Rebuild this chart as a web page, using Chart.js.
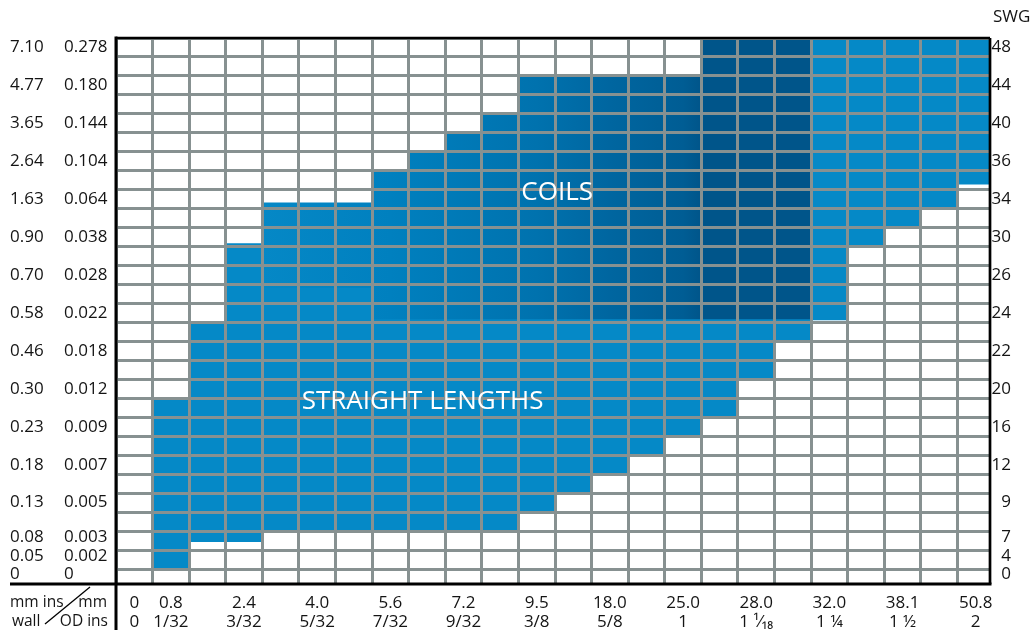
<!DOCTYPE html>
<html><head><meta charset="utf-8">
<script src="https://cdn.jsdelivr.net/npm/chart.js@4"></script>
<style>html,body{margin:0;padding:0;background:#fff}#wrap{width:1031px;height:634px}</style>
</head><body><div id="wrap"><canvas id="c"></canvas></div>
<script>
// ---- data ----
const columnCenters = [0.5,1.5,2.5,3.5,4.5,5.5,6.5,7.5,8.5,9.5,10.5,11.5,12.5,13.5,14.5,15.5,16.5,17.5,18.5,19.5,20.5,21.5,22.5,23.5];
const gridCols = [0,1,2,3,4,5,6,7,8,9,10,11,12,13,14,15,16,17,18,19,20,21,22,23];
const gridRows = [0,1,2,3,4,5,6,7,8,9,10,11,12,13,14,15,16,17,18,19,20,21,22,23,24,25,26,27,28];

// straight lengths (range per OD column, in wall-row units)
const straightLow  = [null,0,1.45,1.45,2,2,2,2,2,2,2,3,4,5,6,7,8,10,12,null,null,null,null,null];
const straightHigh = [null,9,13,17.15,14.8,14.8,14.8,13.15,13.15,13.15,13.15,13.15,13.15,13.15,13.15,13.15,13.15,13.15,13.15,null,null,null,null,null];
// coils
const coilLow  = [null,null,null,null,14.8,14.8,14.8,13.15,13.15,13.15,13.15,13.15,13.15,13.15,13.15,13.15,13.15,13.15,13.15,null,null,null,null,null];
const coilHigh = [null,null,null,null,19.3,19.3,19.3,21,22,23,24,26,26,26,26,26,28,28,28,null,null,null,null,null];
// large OD range (light blue, upper right)
const largeLow  = [null,null,null,null,null,null,null,null,null,null,null,null,null,null,null,null,null,null,null,13.15,17.1,18.1,19.1,20.3];
const largeHigh = [null,null,null,null,null,null,null,null,null,null,null,null,null,null,null,null,null,null,null,28,28,28,28,28];

// x tick labels
const odTickCols = [0.5,1.5,3.5,5.5,7.5,9.5,11.5,13.5,15.5,17.5,19.5,21.5,23.5];
const odMm  = ['0','0.8','2.4','4.0','5.6','7.2','9.5','18.0','25.0','28.0','32.0','38.1','50.8'];
const odIns = ['0','1/32','3/32','5/32','7/32','9/32','3/8','5/8','1','1 \u00B9\u2044\u2081\u2088','1 \u00BC','1 \u00BD','2'];

// y tick labels
const wallTickRows = [27.5,25.5,23.5,21.5,19.5,17.5,15.5,13.5,11.5,9.5,7.5,5.5,3.5,1.7,0.7,-0.25];
const wallMm  = ['7.10','4.77','3.65','2.64','1.63','0.90','0.70','0.58','0.46','0.30','0.23','0.18','0.13','0.08','0.05','0'];
const wallIns = ['0.278','0.180','0.144','0.104','0.064','0.038','0.028','0.022','0.018','0.012','0.009','0.007','0.005','0.003','0.002','0'];
const swg     = ['48','44','40','36','34','30','26','24','22','20','16','12','9','7','4','0'];

// ---- styling ----
const FONT = "'Open Sans', sans-serif";
const GRID = '#879191';
const LIGHT = '#0589c7';
const DARK = '#00558a';
const TXT = '#141414';
const YMIN = -0.79, YMAX = 28, XMIN = 0, XMAX = 23.89;
const COIL_STOPS = [[4,'#0588c6'],[7.5,'#0080bf'],[11.5,'#0072ae'],[13.5,'#0066a0'],[15.5,'#005d94'],[16,DARK]];

function bars(lo, hi){ return columnCenters.map((x,i)=>({x, y: lo[i]==null ? null : [lo[i], hi[i]]})); }

function coilGradient(ctx){
  const chart = ctx.chart;
  if (!chart.chartArea) return DARK;
  const xs = chart.scales.x;
  const v0 = COIL_STOPS[0][0], v1 = COIL_STOPS[COIL_STOPS.length-1][0];
  const g = chart.ctx.createLinearGradient(xs.getPixelForValue(v0), 0, xs.getPixelForValue(v1), 0);
  COIL_STOPS.forEach(([v,c]) => g.addColorStop((v-v0)/(v1-v0), c));
  return g;
}

const labelAxis = (weight, pos, labels, width, align) => ({
  type:'linear', position:pos, min:YMIN, max:YMAX, weight,
  afterBuildTicks: s => { s.ticks = wallTickRows.map(v=>({value:v})); },
  ticks:{autoSkip:false, crossAlign:align, padding: pos==='right'?3:0, color:TXT,
         font:{family:FONT, size:17}, callback:(v,i)=>labels[i]},
  grid:{display:false, drawTicks:false}, border:{display:false},
  afterFit: s => { s.width = width; }
});

const decor = {
  id:'decor',
  afterDraw(chart){
    const {ctx, chartArea:a, scales:{x, y}} = chart;
    const line = (x1,y1,x2,y2)=>{ctx.beginPath();ctx.moveTo(x1,y1);ctx.lineTo(x2,y2);ctx.stroke();};
    ctx.save();
    ctx.strokeStyle = '#000';
    ctx.lineWidth = 3;
    line(a.left, a.top-1.5, a.left, chart.height-4);
    line(10, a.bottom, a.right+1.5, a.bottom);
    ctx.lineWidth = 2.7;
    line(a.left, a.top, a.right, a.top);
    line(a.right, a.top, a.right, a.bottom);
    ctx.lineWidth = 1.3;
    line(a.left-26, a.bottom+3, a.left-71, a.bottom+40);

    ctx.fillStyle = TXT;
    ctx.textBaseline = 'middle';
    ctx.textAlign = 'left';
    ctx.font = "17px " + FONT;
    ctx.fillText('SWG', a.right+3, a.top-21);
    ctx.font = "15.5px " + FONT;
    ctx.fillText('mm ins', 10, a.bottom+19);
    ctx.fillText('wall', 12, a.bottom+38);
    ctx.textAlign = 'right';
    ctx.fillText('mm', a.left-9, a.bottom+19);
    ctx.fillText('OD ins', a.left-8, a.bottom+38);

    ctx.fillStyle = '#ffffff';
    ctx.font = "26px " + FONT;
    ctx.textAlign = 'center';
    ctx.fillText('COILS', x.getPixelForValue(12.06), y.getPixelForValue(19.84));
    ctx.fillText('STRAIGHT LENGTHS', x.getPixelForValue(8.38), y.getPixelForValue(8.84));
    ctx.restore();
  }
};

new Chart(document.getElementById('c'), {
  type:'bar',
  data:{ datasets:[
    {label:'Straight lengths', data:bars(straightLow, straightHigh), backgroundColor:LIGHT},
    {label:'Coils', data:bars(coilLow, coilHigh), backgroundColor:coilGradient},
    {label:'Large OD', data:bars(largeLow, largeHigh), backgroundColor:LIGHT}
  ]},
  options:{
    responsive:true, maintainAspectRatio:false, animation:false,
    datasets:{bar:{grouped:false, barPercentage:1, categoryPercentage:1, borderWidth:0, inflateAmount:0.5}},
    layout:{padding:{left:10, right:20, top:38, bottom:0}},
    plugins:{legend:{display:false}, tooltip:{enabled:false}, title:{display:false}},
    scales:{
      x:{type:'linear', position:'bottom', min:XMIN, max:XMAX, offset:false, weight:0,
         afterBuildTicks: s => { s.ticks = gridCols.map(v=>({value:v})); },
         ticks:{display:false}, grid:{color:GRID, lineWidth:3, drawTicks:false, offset:false, z:1}, border:{display:false},
         afterFit: s => { s.height = 0; }},
      xl:{type:'linear', position:'bottom', min:XMIN, max:XMAX, offset:false, weight:1,
         afterBuildTicks: s => { s.ticks = odTickCols.map(v=>({value:v})); },
         ticks:{autoSkip:false, maxRotation:0, padding:9, color:TXT, font:{family:FONT, size:17, lineHeight:1.15},
                callback:(v,i)=>[odMm[i], odIns[i]]},
         grid:{display:false, drawTicks:false, offset:false}, border:{display:false},
         afterFit: s => { s.height = 50; }},
      y:{type:'linear', position:'left', min:YMIN, max:YMAX, weight:0,
         afterBuildTicks: s => { s.ticks = gridRows.map(v=>({value:v})); },
         ticks:{display:false}, grid:{color:GRID, lineWidth:3, drawTicks:false, z:1}, border:{display:false},
         afterFit: s => { s.width = 0; }},
      yIns: labelAxis(1, 'left', wallIns, 52, 'far'),
      yMm: labelAxis(2, 'left', wallMm, 54, 'far'),
      ySwg: labelAxis(1, 'right', swg, 21, 'far')
    }
  },
  plugins:[decor]
});
</script>
</body></html>
